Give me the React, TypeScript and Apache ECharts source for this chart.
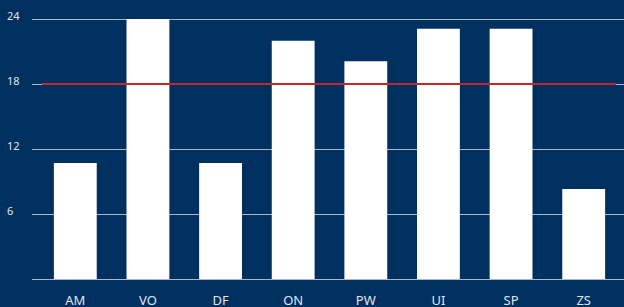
import React, { useEffect, useRef } from "react";
import * as echarts from "echarts";

const categories = ["AM", "VO", "DF", "ON", "PW", "UI", "SP", "ZS"];
const values = [10.7, 24, 10.7, 22, 20.1, 23.1, 23.1, 8.3];
const targetValue = 18;
const yTicks = { min: 0, max: 24, interval: 6 };

export default function App() {
  const ref = useRef<HTMLDivElement>(null);
  useEffect(() => {
    if (!ref.current) return;
    const chart = echarts.init(ref.current, undefined, { renderer: "svg" });
    const font = "'Noto Sans', 'Open Sans', sans-serif";
    chart.setOption({
      animation: false,
      backgroundColor: "#00305F",
      grid: [
        { left: 39, right: 4, top: 19, bottom: 28 },
        { left: 32, right: 0, top: 19, bottom: 28 },
        { left: 42, right: 8, top: 19, bottom: 28 },
      ],
      xAxis: [
        {
          type: "category",
          gridIndex: 0,
          data: categories,
          axisLine: { show: false },
          axisTick: { show: false },
          axisLabel: { color: "#E2E6EE", fontSize: 13, fontFamily: font, margin: 14 },
        },
        { type: "value", gridIndex: 1, show: false, min: 0, max: 1 },
        { type: "value", gridIndex: 2, show: false, min: 0, max: 1 },
      ],
      yAxis: [
        { type: "value", gridIndex: 0, ...yTicks, show: false },
        {
          type: "value",
          gridIndex: 1,
          ...yTicks,
          axisLine: { show: false },
          axisTick: { show: false },
          splitLine: { show: true, lineStyle: { color: "#AEB6C6", width: 1 } },
          axisLabel: {
            color: "#E2E6EE",
            fontSize: 11,
            fontFamily: font,
            align: "left",
            margin: 25,
            verticalAlign: "bottom",
            lineHeight: 8,
            formatter: (v: number) => (v === 0 ? "" : String(v)),
          },
        },
        { type: "value", gridIndex: 2, ...yTicks, show: false },
      ],
      series: [
        {
          type: "bar",
          xAxisIndex: 0,
          yAxisIndex: 0,
          data: values,
          barCategoryGap: "41%",
          itemStyle: { color: "#FFFFFF" },
          z: 3,
        },
        {
          type: "line",
          xAxisIndex: 2,
          yAxisIndex: 2,
          data: [
            [0, targetValue],
            [1, targetValue],
          ],
          symbol: "none",
          lineStyle: { color: "#C1272D", width: 2 },
          z: 5,
        },
      ],
    });
    return () => chart.dispose();
  }, []);
  return (
    <div
      ref={ref}
      style={{ position: "fixed", left: 0, top: 0, width: 624, height: 307 }}
    />
  );
}
